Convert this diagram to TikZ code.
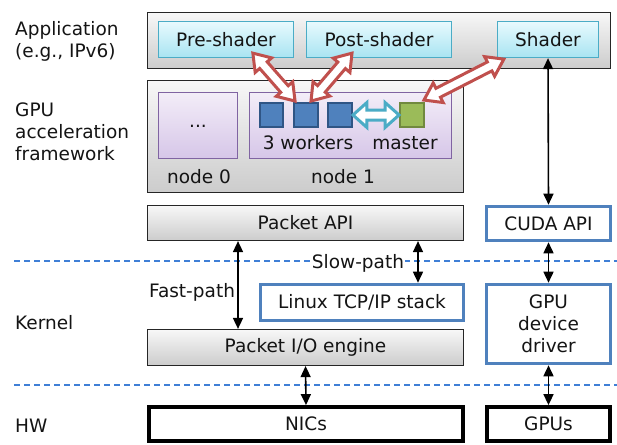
\documentclass[tikz,border=0pt]{standalone}
\usepackage{fontspec}
\setmainfont{DejaVu Sans}
\usetikzlibrary{calc,arrows.meta}
\definecolor{txt}{HTML}{141414}
\definecolor{cyanb}{HTML}{4BACC6}
\definecolor{cyant}{HTML}{E8FAFE}
\definecolor{cyanbt}{HTML}{A8E4F2}
\definecolor{purb}{HTML}{8064A2}
\definecolor{purt}{HTML}{F3EDF8}
\definecolor{purbt}{HTML}{D6C6E8}
\definecolor{wfill}{HTML}{4F81BD}
\definecolor{wdraw}{HTML}{2F5585}
\definecolor{mfill}{HTML}{9BBB59}
\definecolor{mdraw}{HTML}{71893F}
\definecolor{redar}{HTML}{C0504D}
\definecolor{blueb}{HTML}{4F81BD}
\definecolor{dashc}{HTML}{3F7FD6}
\newcommand\fatarr[7]{%
  \coordinate (fa-p) at ($(#1)!#4!(#2)$);
  \coordinate (fa-q) at ($(#2)!#4!(#1)$);
  \draw[draw=#3, fill=white, line width=#7]
    (#1) -- ($(fa-p)!#5!90:(#2)$) -- ($(fa-p)!#6!90:(#2)$)
    -- ($(fa-q)!#6!-90:(#1)$) -- ($(fa-q)!#5!-90:(#1)$) -- (#2)
    -- ($(fa-q)!#5!90:(#1)$) -- ($(fa-q)!#6!90:(#1)$)
    -- ($(fa-p)!#6!-90:(#2)$) -- ($(fa-p)!#5!-90:(#2)$) -- cycle;
}
\tikzset{
  every node/.style={text=txt, font=\fontsize{18.5}{22}\selectfont},
  box/.style={inner sep=0pt, align=center},
  graybox/.style={box, draw=black!85, line width=1.2pt, top color=gray!6, bottom color=gray!40},
  cyanbox/.style={box, draw=cyanb, line width=1.3pt, top color=cyant, bottom color=cyanbt},
  purbox/.style={box, draw=purb, line width=1.3pt, top color=purt, bottom color=purbt},
  bluebox/.style={box, draw=blueb, line width=3.6pt, fill=white},
  hwbox/.style={box, draw=black, line width=3.8pt, fill=white},
  worker/.style={draw=wdraw, fill=wfill, line width=2.4pt, minimum size=23.5pt, inner sep=0pt},
  mastersq/.style={draw=mdraw, fill=mfill, line width=2.4pt, minimum size=23.5pt, inner sep=0pt},
  lbl/.style={inner sep=0pt},
  sidelbl/.style={inner sep=0pt, anchor=west, align=left},
  bothar/.style={line width=1.6pt, black, {Triangle[length=11pt,width=10pt]}-{Triangle[length=11pt,width=10pt]}},
  sepline/.style={color=dashc, line width=1.6pt, dash pattern=on 6pt off 4pt}
}
\begin{document}
\begin{tikzpicture}[x=1pt,y=-1pt]
\useasboundingbox (0,0) rectangle (617,444);

% separators
\coordinate (s1a) at (14,261); \coordinate (s1b) at (617,261);
\coordinate (s2a) at (14,385); \coordinate (s2b) at (617,385);
\draw[sepline] (s1a) -- (s1b);
\draw[sepline] (s2a) -- (s2b);

% left labels
\node[sidelbl] (lapp) at (15,41) {Application\\(e.g., IPv6)};
\node[sidelbl] (lgpu) at (15,132) {GPU\\acceleration\\framework};
\node[sidelbl] (lker) at (15,323) {Kernel};
\node[sidelbl] (lhw) at (15,426) {HW};

% application layer
\node[graybox, minimum width=463pt, minimum height=56pt] (app) at (379,40.5) {};
\node[cyanbox, minimum width=135pt, minimum height=36pt] (pre) at (226,39.5) {Pre-shader};
\node[cyanbox, minimum width=145pt, minimum height=36pt] (post) at (379,39.5) {Post-shader};
\node[cyanbox, minimum width=101pt, minimum height=36pt] (shader) at (548,39.5) {Shader};

% framework
\node[graybox, minimum width=316pt, minimum height=112pt] (fw) at (305.5,136.5) {};
\node[purbox, minimum width=79pt, minimum height=66pt] (n0) at (198,125.5) {};
\node[purbox, minimum width=202pt, minimum height=66pt] (n1) at (350.5,125.5) {};
\node[lbl] (dots) at (198,126) {...};
\node[lbl] (n0l) at (199,177) {node 0};
\node[lbl] (n1l) at (343,177) {node 1};
\node[worker] (w1) at (271.5,115) {};
\node[worker] (w2) at (306,115) {};
\node[worker] (w3) at (340,115) {};
\node[mastersq] (ms) at (412,115) {};
\node[lbl] (wl) at (308,143) {3 workers};
\node[lbl] (ml) at (405,143) {master};

% kernel
\node[graybox, minimum width=316pt, minimum height=35pt] (papi) at (305.5,223) {Packet API};
\node[bluebox, minimum width=124pt, minimum height=34pt] (cuda) at (548.5,223.5) {CUDA API};
\node[bluebox, minimum width=203pt, minimum height=36pt] (linux) at (362,302.5) {Linux TCP/IP stack};
\node[bluebox, minimum width=124pt, minimum height=79pt] (drv) at (548.5,324) {GPU\\device\\driver};
\node[graybox, minimum width=316pt, minimum height=36pt] (pio) at (305.5,347.5) {Packet I/O engine};

% hardware
\node[hwbox, minimum width=314pt, minimum height=34pt] (nics) at (306,424) {NICs};
\node[hwbox, minimum width=123pt, minimum height=34pt] (gpus) at (548.5,424) {GPUs};

% black arrows
\coordinate (fx) at (238,0);
\coordinate (sx) at (418,0);
\draw[bothar] (shader.south) -- (cuda.north);
\draw[bothar] (cuda.south) -- (drv.north);
\draw[bothar] (drv.south) -- (gpus.north);
\draw[bothar] (papi.south -| fx) -- (pio.north -| fx);
\draw[bothar] (papi.south -| sx) -- (linux.north -| sx);
\draw[bothar] (pio.south) -- (nics.north);
\node[lbl] (fastl) at (192,292) {Fast-path};
\node[lbl, fill=white, inner sep=1pt] (slowl) at (358,263) {Slow-path};

% fat arrows
\coordinate (r1a) at ([xshift=95pt,yshift=5pt]pre.south west);
\coordinate (r1b) at ([xshift=2pt,yshift=1pt]w2.north west);
\coordinate (r2a) at ([xshift=5pt,yshift=1pt]w2.north);
\coordinate (r2b) at ([xshift=-27pt,yshift=5pt]post.south);
\coordinate (r3a) at ([xshift=-1pt,yshift=2pt]ms.north east);
\coordinate (r3b) at ([xshift=7pt,yshift=-1pt]shader.south west);
\fatarr{r1a}{r1b}{redar}{16pt}{11pt}{5pt}{3pt}
\fatarr{r2a}{r2b}{redar}{16pt}{11pt}{5pt}{3pt}
\fatarr{r3a}{r3b}{redar}{16pt}{11pt}{5pt}{3pt}
\fatarr{w3.east}{ms.west}{cyanb}{14pt}{12.5pt}{5pt}{3pt}
\end{tikzpicture}
\end{document}
